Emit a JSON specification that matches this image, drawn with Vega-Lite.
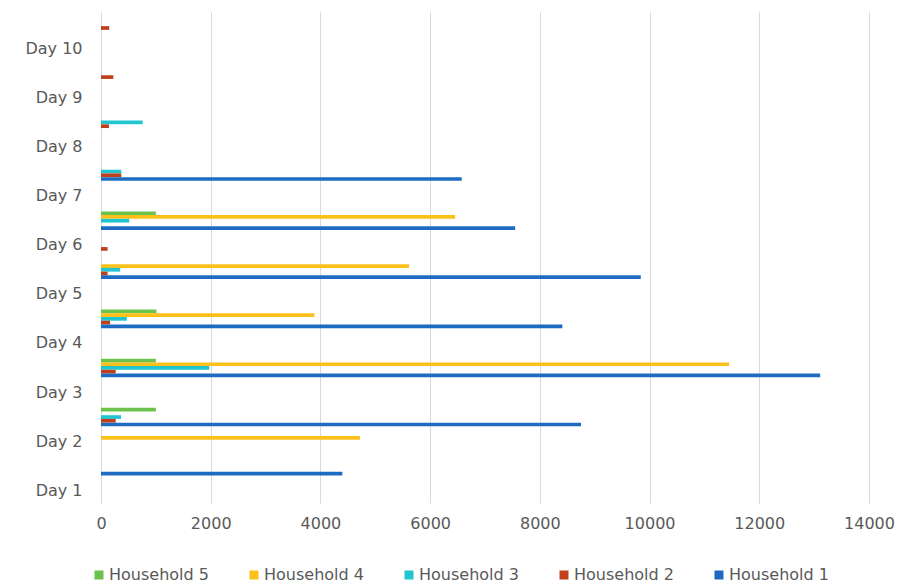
{
  "$schema": "https://vega.github.io/schema/vega-lite/v6.json",
  "width": 768,
  "height": 491,
  "autosize": "none",
  "padding": {"left": 101, "top": 12, "right": 46, "bottom": 83},
  "background": "white",
  "config": {
    "view": {"stroke": null},
    "font": "DejaVu Sans",
    "axis": {"labelColor": "#595959", "labelFontSize": 16, "labelFont": "DejaVu Sans"},
    "legend": {"labelColor": "#595959", "labelFontSize": 16, "labelFont": "DejaVu Sans"}
  },
  "data": {
    "values": [
      {"reading": 2, "series": "Household 1", "value": 4400},
      {"reading": 3, "series": "Household 4", "value": 4720},
      {"reading": 4, "series": "Household 5", "value": 1000},
      {"reading": 4, "series": "Household 3", "value": 365},
      {"reading": 4, "series": "Household 2", "value": 268},
      {"reading": 4, "series": "Household 1", "value": 8750},
      {"reading": 6, "series": "Household 5", "value": 1000},
      {"reading": 6, "series": "Household 4", "value": 11450},
      {"reading": 6, "series": "Household 3", "value": 1975},
      {"reading": 6, "series": "Household 2", "value": 268},
      {"reading": 6, "series": "Household 1", "value": 13110},
      {"reading": 8, "series": "Household 5", "value": 1010},
      {"reading": 8, "series": "Household 4", "value": 3890},
      {"reading": 8, "series": "Household 3", "value": 470},
      {"reading": 8, "series": "Household 2", "value": 165},
      {"reading": 8, "series": "Household 1", "value": 8410},
      {"reading": 10, "series": "Household 4", "value": 5615},
      {"reading": 10, "series": "Household 3", "value": 350},
      {"reading": 10, "series": "Household 2", "value": 120},
      {"reading": 10, "series": "Household 1", "value": 9840},
      {"reading": 11, "series": "Household 2", "value": 120},
      {"reading": 12, "series": "Household 5", "value": 1000},
      {"reading": 12, "series": "Household 4", "value": 6455},
      {"reading": 12, "series": "Household 3", "value": 515},
      {"reading": 12, "series": "Household 1", "value": 7550},
      {"reading": 14, "series": "Household 3", "value": 370},
      {"reading": 14, "series": "Household 2", "value": 370},
      {"reading": 14, "series": "Household 1", "value": 6575},
      {"reading": 16, "series": "Household 3", "value": 760},
      {"reading": 16, "series": "Household 2", "value": 145},
      {"reading": 18, "series": "Household 2", "value": 225},
      {"reading": 20, "series": "Household 2", "value": 150}
    ]
  },
  "mark": {"type": "bar"},
  "encoding": {
    "y": {
      "field": "reading",
      "type": "ordinal",
      "scale": {
        "domain": [20, 19, 18, 17, 16, 15, 14, 13, 12, 11, 10, 9, 8, 7, 6, 5, 4, 3, 2, 1],
        "paddingInner": 0.245,
        "paddingOuter": 0.1225
      },
      "axis": {
        "title": null,
        "domain": false,
        "ticks": false,
        "labelPadding": 19,
        "labelExpr": "datum.value % 2 == 1 ? 'Day ' + (datum.value + 1) / 2 : ''"
      }
    },
    "yOffset": {
      "field": "series",
      "type": "nominal",
      "sort": ["Household 5", "Household 4", "Household 3", "Household 2", "Household 1"],
      "scale": {"domain": ["Household 5", "Household 4", "Household 3", "Household 2", "Household 1"]}
    },
    "x": {
      "field": "value",
      "type": "quantitative",
      "scale": {"domain": [0, 14000], "nice": false},
      "axis": {
        "title": null,
        "domain": false,
        "ticks": false,
        "values": [0, 2000, 4000, 6000, 8000, 10000, 12000, 14000],
        "format": "d",
        "grid": true,
        "gridColor": "#d9d9d9",
        "gridWidth": 1,
        "labelPadding": 12,
        "labelFlush": false
      }
    },
    "color": {
      "field": "series",
      "type": "nominal",
      "scale": {
        "domain": ["Household 5", "Household 4", "Household 3", "Household 2", "Household 1"],
        "range": ["#6cc24a", "#fbc11a", "#20c5d0", "#c1401c", "#1e6cc1"]
      },
      "legend": {
        "title": null,
        "orient": "none",
        "direction": "horizontal",
        "legendX": -10,
        "legendY": 555,
        "symbolType": "square",
        "symbolSize": 81,
        "symbolStrokeWidth": 0,
        "labelOffset": 2,
        "columnPadding": 37
      }
    }
  }
}
